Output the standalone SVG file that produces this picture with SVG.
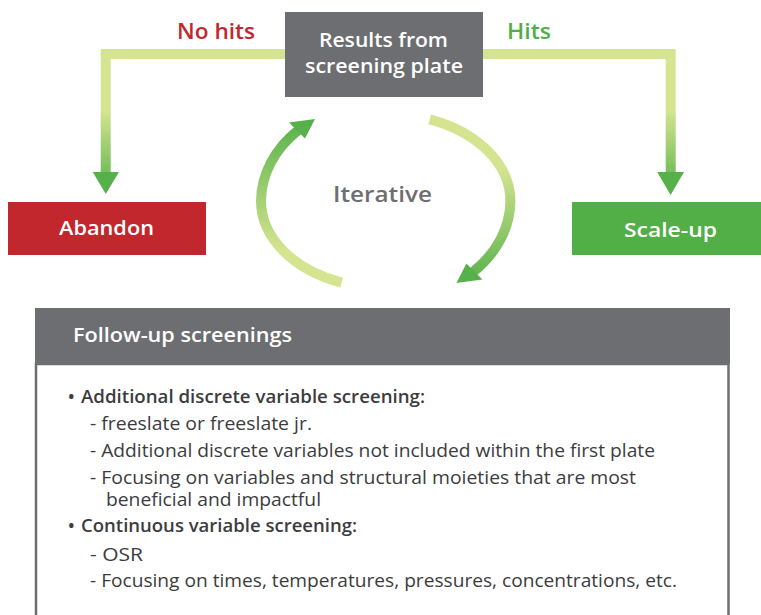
<svg xmlns="http://www.w3.org/2000/svg" width="761" height="615" viewBox="0 0 761 615">
<style>
.lbl{font-family:"Open Sans","Liberation Sans",sans-serif;font-weight:600;}
.w{fill:#ffffff;}
.body{font-family:"Open Sans","Liberation Sans",sans-serif;font-size:17.5px;fill:#3c3c3e;}
.b{font-weight:600;}
.conn{fill:none;stroke-width:10;stroke-linejoin:miter;stroke-linecap:butt;}
</style>
<defs>
<linearGradient id="gL" gradientUnits="userSpaceOnUse" x1="0" y1="54" x2="0" y2="194">
<stop offset="0" stop-color="#d5e491"/><stop offset="0.4" stop-color="#d5e491"/><stop offset="1" stop-color="#57b14a"/>
</linearGradient>
<linearGradient id="gArcL" gradientUnits="userSpaceOnUse" x1="0" y1="283" x2="0" y2="119">
<stop offset="0" stop-color="#d5e491"/><stop offset="0.2" stop-color="#d5e491"/><stop offset="1" stop-color="#57b14a"/>
</linearGradient>
<linearGradient id="gArcR" gradientUnits="userSpaceOnUse" x1="0" y1="119" x2="0" y2="283">
<stop offset="0" stop-color="#d5e491"/><stop offset="0.3" stop-color="#d5e491"/><stop offset="1" stop-color="#57b14a"/>
</linearGradient>
</defs>
<rect width="761" height="615" fill="#ffffff"/>
<g id="connectors">
<path class="conn" stroke="url(#gL)" d="M290,54 H105.7 V173"/>
<polygon points="92.7,172 119,172 105.8,194" fill="#57b14a"/>
<path class="conn" stroke="url(#gL)" d="M478,54 H670.7 V173"/>
<polygon points="657.2,172 684,172 670.6,195" fill="#57b14a"/>
<path class="conn" stroke="url(#gArcL)" stroke-width="10.5" d="M341.7,282.7 A124.75,87.4 0 0 1 261,201 A124.75,100.4 0 0 1 298,130.4"/>
<polygon points="315,119 289,122.5 305,138.5" fill="#57b14a"/>
<path class="conn" stroke="url(#gArcR)" stroke-width="10.5" d="M429.7,119.3 A124.75,87.4 0 0 1 510.4,201 A124.75,100.4 0 0 1 473.4,271.6"/>
<polygon points="456.4,283 482.4,279.5 466.4,263.5" fill="#57b14a"/>
<text class="lbl" x="177" y="39" font-size="22" fill="#c1272d" textLength="78" lengthAdjust="spacingAndGlyphs">No hits</text>
<text class="lbl" x="507" y="39" font-size="22" fill="#52ae47" textLength="44" lengthAdjust="spacingAndGlyphs">Hits</text>
<text x="333" y="202" font-family="Open Sans, Liberation Sans, sans-serif" font-weight="600" font-size="22" fill="#6d6e71" textLength="99" lengthAdjust="spacingAndGlyphs">Iterative</text>
</g>
<g id="results">
<rect x="285" y="12" width="198" height="85" fill="#6d6e71"/>
<text class="lbl w" x="319" y="47" font-size="19.5" textLength="129" lengthAdjust="spacingAndGlyphs">Results from</text>
<text class="lbl w" x="305" y="73" font-size="19.5" textLength="158" lengthAdjust="spacingAndGlyphs">screening plate</text>
</g>
<g id="abandon">
<rect x="8" y="202" width="198" height="53" fill="#c1272d"/>
<text class="lbl w" x="59" y="235" font-size="19.5" textLength="95" lengthAdjust="spacingAndGlyphs">Abandon</text>
</g>
<g id="scaleup">
<rect x="572" y="202" width="189" height="53" fill="#52ae47"/>
<text class="lbl w" x="624" y="237" font-size="19.5" textLength="93" lengthAdjust="spacingAndGlyphs">Scale-up</text>
</g>
<g id="followup">
<rect x="36" y="364" width="692.5" height="260" fill="#ffffff" stroke="#6d6e71" stroke-width="2.5"/>
<rect x="35" y="308" width="695" height="56" fill="#6d6e71"/>
<text class="lbl w" x="73" y="342" font-size="19.5" textLength="219" lengthAdjust="spacingAndGlyphs">Follow-up screenings</text>
<text class="body b" x="68" y="403">•</text>
<text class="body b" x="81" y="403" textLength="344" lengthAdjust="spacingAndGlyphs">Additional discrete variable screening:</text>
<text class="body" x="90" y="430" textLength="222" lengthAdjust="spacingAndGlyphs">- freeslate or freeslate jr.</text>
<text class="body" x="90" y="457" textLength="565" lengthAdjust="spacingAndGlyphs">- Additional discrete variables not included within the first plate</text>
<text class="body" x="90" y="484" textLength="546" lengthAdjust="spacingAndGlyphs">- Focusing on variables and structural moieties that are most</text>
<text class="body" x="106" y="506" textLength="215" lengthAdjust="spacingAndGlyphs">beneficial and impactful</text>
<text class="body b" x="68" y="532">•</text>
<text class="body b" x="81" y="532" textLength="276" lengthAdjust="spacingAndGlyphs">Continuous variable screening:</text>
<text class="body" x="90" y="561" textLength="53" lengthAdjust="spacingAndGlyphs">- OSR</text>
<text class="body" x="90" y="587" textLength="587" lengthAdjust="spacingAndGlyphs">- Focusing on times, temperatures, pressures, concentrations, etc.</text>
</g>
</svg>
